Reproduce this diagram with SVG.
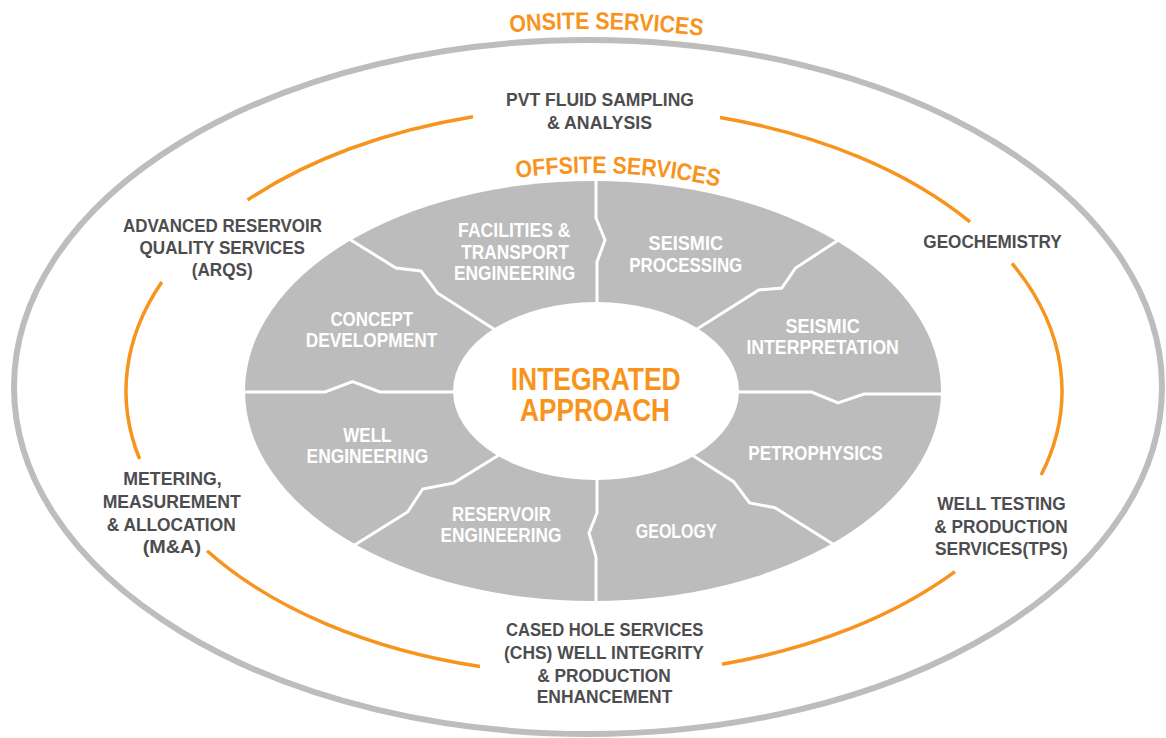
<svg xmlns="http://www.w3.org/2000/svg" width="1166" height="738" viewBox="0 0 1166 738">
<style>
.outer{font-family:"Liberation Sans",Arial,sans-serif;font-weight:bold;font-size:18px;fill:#4D4D4F}
.inner{font-family:"Liberation Sans",Arial,sans-serif;font-weight:bold;font-size:20px;fill:#FFFFFF}
.title{font-family:"Liberation Sans",Arial,sans-serif;font-weight:bold;font-size:24px;fill:#F7941D}
.core{font-family:"Liberation Sans",Arial,sans-serif;font-weight:bold;font-size:32px;fill:#F7941D}
.ring{fill:none;stroke:#F7941D;stroke-width:3.5}
.div{fill:none;stroke:#FFFFFF;stroke-width:3;stroke-linejoin:miter}
</style>
<defs>
<path id="onsitePath" d="M 510 32.2 A 586 358 0 0 1 806 54.7"/>
<path id="offsitePath" d="M 516.7 178 A 360 218 0 0 1 830 226.9"/>
</defs>
<rect width="1166" height="738" fill="#FFFFFF"/>
<g id="onsite-ring">
<ellipse cx="588" cy="387" rx="574" ry="347" fill="none" stroke="#BDBDBD" stroke-width="6"/>
<text class="title"><textPath href="#onsitePath" textLength="193" lengthAdjust="spacingAndGlyphs">ONSITE SERVICES</textPath></text>
</g>
<g id="connectors">
<path class="ring" d="M 247.6 200 A 468 284 0 0 1 473 116.7"/>
<path class="ring" d="M 720 117.5 A 468 284 0 0 1 970 221.9"/>
<path class="ring" d="M 1012 263.3 A 468 284 0 0 1 1041.1 475"/>
<path class="ring" d="M 955 571.7 A 468 284 0 0 1 722 664.2"/>
<path class="ring" d="M 480 666.5 A 468 284 0 0 1 207 550.7"/>
<path class="ring" d="M 139.6 459 A 468 284 0 0 1 161.8 282"/>
</g>
<g id="offsite-ring">
<ellipse cx="593" cy="391" rx="348" ry="210" fill="#BCBCBC"/>
<path class="div" d="M 596 175 L 596 218 L 605 240 L 597 262 L 597 305"/>
<path class="div" d="M 597 478 L 597 513 L 589 533 L 596 557 L 596 606"/>
<path class="div" d="M 240 392 L 325 392 L 352.5 381.5 L 380 392 L 455 392"/>
<path class="div" d="M 738 392 L 811.6 392 L 838 403 L 864 394 L 946 394"/>
<path class="div" d="M 348.3 238.4 L 396 268 L 421 271 L 437.4 293 L 497 331"/>
<path class="div" d="M 840 239 L 795.6 268 L 781.8 288 L 758.8 290 L 697 329"/>
<path class="div" d="M 499 455 L 453.5 483 L 422.7 489 L 407.6 512 L 353 546"/>
<path class="div" d="M 692 455 L 733.6 481.7 L 749.6 503 L 775 507.7 L 836 546"/>
<text class="title"><textPath href="#offsitePath" textLength="203" lengthAdjust="spacingAndGlyphs">OFFSITE SERVICES</textPath></text>
</g>
<g id="integrated-approach">
<ellipse cx="596" cy="391" rx="143" ry="89" fill="#FFFFFF"/>
<text class="core" x="510.7" y="390" textLength="170" lengthAdjust="spacingAndGlyphs">INTEGRATED</text>
<text class="core" x="520" y="420.7" textLength="150" lengthAdjust="spacingAndGlyphs">APPROACH</text>
</g>
<g id="facilities">
<text class="inner" x="458.1" y="237.3" textLength="112.5" lengthAdjust="spacingAndGlyphs">FACILITIES &amp;</text>
<text class="inner" x="461.3" y="259.3" textLength="107.4" lengthAdjust="spacingAndGlyphs">TRANSPORT</text>
<text class="inner" x="454" y="280" textLength="121.2" lengthAdjust="spacingAndGlyphs">ENGINEERING</text>
</g>
<g id="seismic-processing">
<text class="inner" x="648.6" y="250" textLength="74.4" lengthAdjust="spacingAndGlyphs">SEISMIC</text>
<text class="inner" x="629.3" y="271.7" textLength="113" lengthAdjust="spacingAndGlyphs">PROCESSING</text>
</g>
<g id="concept-development">
<text class="inner" x="330.4" y="325.7" textLength="82.7" lengthAdjust="spacingAndGlyphs">CONCEPT</text>
<text class="inner" x="305.7" y="346.7" textLength="131.7" lengthAdjust="spacingAndGlyphs">DEVELOPMENT</text>
</g>
<g id="seismic-interpretation">
<text class="inner" x="785.4" y="333.3" textLength="74.4" lengthAdjust="spacingAndGlyphs">SEISMIC</text>
<text class="inner" x="746.4" y="354" textLength="152.5" lengthAdjust="spacingAndGlyphs">INTERPRETATION</text>
</g>
<g id="well-engineering">
<text class="inner" x="343.3" y="442.3" textLength="48.2" lengthAdjust="spacingAndGlyphs">WELL</text>
<text class="inner" x="306.6" y="463.3" textLength="121.6" lengthAdjust="spacingAndGlyphs">ENGINEERING</text>
</g>
<g id="petrophysics">
<text class="inner" x="748.3" y="460" textLength="134.5" lengthAdjust="spacingAndGlyphs">PETROPHYSICS</text>
</g>
<g id="reservoir-engineering">
<text class="inner" x="452.1" y="521" textLength="98.7" lengthAdjust="spacingAndGlyphs">RESERVOIR</text>
<text class="inner" x="440.6" y="542.3" textLength="120.8" lengthAdjust="spacingAndGlyphs">ENGINEERING</text>
</g>
<g id="geology">
<text class="inner" x="635.8" y="538.3" textLength="80.8" lengthAdjust="spacingAndGlyphs">GEOLOGY</text>
</g>
<g id="pvt">
<text class="outer" x="506" y="106" textLength="188" lengthAdjust="spacingAndGlyphs">PVT FLUID SAMPLING</text>
<text class="outer" x="547" y="129" textLength="105" lengthAdjust="spacingAndGlyphs">&amp; ANALYSIS</text>
</g>
<g id="arqs">
<text class="outer" x="123" y="231.5" textLength="199" lengthAdjust="spacingAndGlyphs">ADVANCED RESERVOIR</text>
<text class="outer" x="139.5" y="254" textLength="165.5" lengthAdjust="spacingAndGlyphs">QUALITY SERVICES</text>
<text class="outer" x="191.7" y="275.5" textLength="61" lengthAdjust="spacingAndGlyphs">(ARQS)</text>
</g>
<g id="geochemistry">
<text class="outer" x="923.3" y="247.5" textLength="138.4" lengthAdjust="spacingAndGlyphs">GEOCHEMISTRY</text>
</g>
<g id="metering">
<text class="outer" x="123.3" y="484.5" textLength="98.4" lengthAdjust="spacingAndGlyphs">METERING,</text>
<text class="outer" x="102.7" y="507.5" textLength="138" lengthAdjust="spacingAndGlyphs">MEASUREMENT</text>
<text class="outer" x="106.7" y="530.5" textLength="129" lengthAdjust="spacingAndGlyphs">&amp; ALLOCATION</text>
<text class="outer" x="142.7" y="552.5" textLength="58.3" lengthAdjust="spacingAndGlyphs">(M&amp;A)</text>
</g>
<g id="tps">
<text class="outer" x="937.3" y="510" textLength="128.4" lengthAdjust="spacingAndGlyphs">WELL TESTING</text>
<text class="outer" x="934.3" y="532.7" textLength="133.4" lengthAdjust="spacingAndGlyphs">&amp; PRODUCTION</text>
<text class="outer" x="935" y="555" textLength="132.7" lengthAdjust="spacingAndGlyphs">SERVICES(TPS)</text>
</g>
<g id="chs">
<text class="outer" x="506" y="636" textLength="197.3" lengthAdjust="spacingAndGlyphs">CASED HOLE SERVICES</text>
<text class="outer" x="504" y="659" textLength="200" lengthAdjust="spacingAndGlyphs">(CHS) WELL INTEGRITY</text>
<text class="outer" x="537.3" y="681.7" textLength="133.4" lengthAdjust="spacingAndGlyphs">&amp; PRODUCTION</text>
<text class="outer" x="536.7" y="703.3" textLength="135.6" lengthAdjust="spacingAndGlyphs">ENHANCEMENT</text>
</g>
</svg>
